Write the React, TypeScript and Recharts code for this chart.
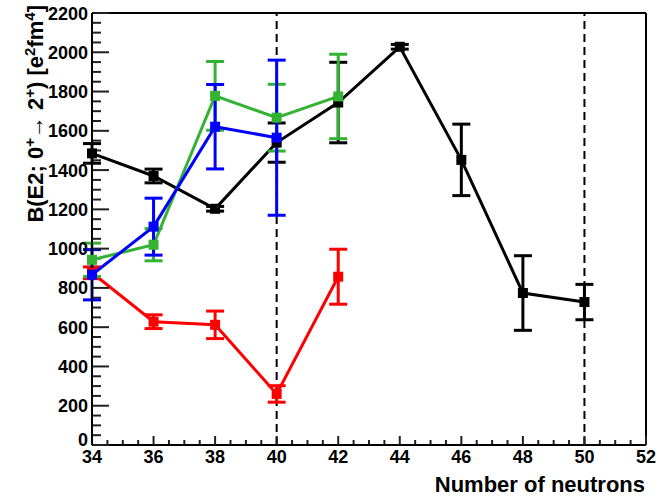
import React from 'react';
import { LineChart, Line, XAxis, YAxis, ErrorBar, ReferenceLine, Label } from 'recharts';

// Neutron number (x), B(E2) value (y), error (err)
const blackN = [34, 36, 38, 40, 42, 44, 46, 48, 50];
const blackB = [1485, 1370, 1203, 1540, 1744, 2028, 1452, 774, 728];
const blackE = [50, 35, 12, 100, 205, 12, 182, 190, 90];

const redN = [34, 36, 38, 40, 42];
const redB = [877, 628, 612, 260, 857];
const redE = [30, 35, 70, 42, 140];

const greenN = [34, 36, 38, 40, 42];
const greenB = [943, 1020, 1778, 1667, 1775];
const greenE = [85, 82, 175, 170, 215];

const blueN = [34, 36, 38, 40];
const blueB = [867, 1112, 1621, 1565];
const blueE = [128, 145, 215, 395];

const xMajorTicks = [34, 36, 38, 40, 42, 44, 46, 48, 50, 52];
const yMajorTicks = [0, 200, 400, 600, 800, 1000, 1200, 1400, 1600, 1800, 2000, 2200];
const dashedN = [40, 50];

const X_MIN = 34;
const X_MAX = 52;
const Y_MIN = 0;
const Y_MAX = 2200;
const PLOT_W = 554;
const PLOT_H = 432;

const TICK = '#202020';

const build = (xs: number[], ys: number[], es: number[]) =>
  xs.map((x, i) => ({ x, y: ys[i], err: es[i] }));

const blackData = build(blackN, blackB, blackE);
const redData = build(redN, redB, redE);
const greenData = build(greenN, greenB, greenE);
const blueData = build(blueN, blueB, blueE);

// minor tick positions (between the labelled ticks)
const xMinorTicks: number[] = [];
for (let i = 0; i < xMajorTicks.length - 1; i++) {
  for (let k = 1; k < 4; k++) xMinorTicks.push(xMajorTicks[i] + k * 0.5);
}
const yMinorTicks: number[] = [];
for (let i = 0; i < yMajorTicks.length - 1; i++) {
  for (let k = 1; k < 4; k++) yMinorTicks.push(yMajorTicks[i] + k * 50);
}

// tick lengths in pixels converted to data units
const pxToX = (px: number) => (px * (X_MAX - X_MIN)) / PLOT_W;
const pxToY = (px: number) => (px * (Y_MAX - Y_MIN)) / PLOT_H;

const FONT = '"Liberation Sans", Arial, sans-serif';

const YTick = (props: any) => {
  const x = Number(props.x);
  const y = Number(props.y);
  const v = Number(props.payload.value);
  return (
    <g>
      <line x1={x + 1} x2={x + 17} y1={y} y2={y} stroke={TICK} strokeWidth={2} />
      <text x={x - 4} y={v === 0 ? y + 1 : y + 6.5} textAnchor="end" fontFamily={FONT} fontWeight="bold" fontSize={18} fill="#000">
        {v}
      </text>
    </g>
  );
};

const XTick = (props: any) => {
  const x = Number(props.x);
  const y = Number(props.y);
  const v = Number(props.payload.value);
  return (
    <text x={x} y={y + 27} textAnchor="middle" fontFamily={FONT} fontWeight="bold" fontSize={18} fill="#000">
      {v}
    </text>
  );
};

const makeDot = (color: string) => (props: any) => {
  const { cx, cy, index } = props;
  if (cx == null || cy == null) return <g key={index} />;
  return <rect key={index} x={cx - 5} y={cy - 5} width={10} height={10} fill={color} />;
};

const series = [
  { data: blackData, color: '#000000' },
  { data: redData, color: '#ff0000' },
  { data: greenData, color: '#33b233' },
  { data: blueData, color: '#0000ff' },
];

export default function App() {
  return (
    <div style={{ position: 'absolute', left: 0, top: 0, background: '#fff' }}>
      <LineChart width={669} height={498} margin={{ top: 13, right: 23, bottom: 0, left: 0 }}>
        <XAxis
          type="number"
          dataKey="x"
          domain={[X_MIN, X_MAX]}
          ticks={xMajorTicks}
          interval={0}
          height={53}
          tickSize={-9}
          tickMargin={0}
          tickLine={{ stroke: TICK, strokeWidth: 2 }}
          tick={<XTick />}
          axisLine={{ stroke: '#000', strokeWidth: 2 }}
          allowDuplicatedCategory={false}
        >
          <Label
            content={() => (
              <text x={645} y={492} textAnchor="end" fontFamily={FONT} fontWeight="bold" fontSize={22} fill="#000">
                Number of neutrons
              </text>
            )}
          />
        </XAxis>
        <YAxis
          type="number"
          domain={[Y_MIN, Y_MAX]}
          ticks={yMajorTicks}
          interval={0}
          width={92}
          tickSize={0}
          tickMargin={0}
          tickLine={false}
          tick={<YTick />}
          axisLine={{ stroke: '#000', strokeWidth: 2 }}
        >
          <Label
            content={() => (
              <text
                x={43}
                y={5}
                transform="rotate(-90, 43, 5)"
                textAnchor="end"
                fontFamily={FONT}
                fontWeight="bold"
                fontSize={22}
                fill="#000"
              >
                B(E2; 0<tspan dy={-8} fontSize={15}>+</tspan>
                <tspan dy={8}>{'\u2192'} 2</tspan>
                <tspan dy={-8} fontSize={15}>+</tspan>
                <tspan dy={8}>) [e</tspan>
                <tspan dy={-8} fontSize={15}>2</tspan>
                <tspan dy={8}>fm</tspan>
                <tspan dy={-8} fontSize={15}>4</tspan>
                <tspan dy={8}>]</tspan>
              </text>
            )}
          />
        </YAxis>
        {yMinorTicks.map((v) => (
          <ReferenceLine
            key={'ym' + v}
            segment={[
              { x: X_MIN + pxToX(1), y: v },
              { x: X_MIN + pxToX(9), y: v },
            ]}
            stroke={TICK}
            strokeWidth={2}
          />
        ))}
        {xMinorTicks.map((v) => (
          <ReferenceLine
            key={'xm' + v}
            segment={[
              { x: v, y: Y_MIN + pxToY(1) },
              { x: v, y: Y_MIN + pxToY(5) },
            ]}
            stroke={TICK}
            strokeWidth={2}
          />
        ))}
        <ReferenceLine y={Y_MAX} stroke="#000" strokeWidth={2} />
        <ReferenceLine x={X_MAX} stroke="#000" strokeWidth={2} />
        {dashedN.map((n) => (
          <ReferenceLine key={n} x={n} stroke="#000" strokeWidth={2} strokeDasharray="8 5" />
        ))}
        {series.map((s, i) => (
          <Line
            key={i}
            data={s.data}
            dataKey="y"
            type="linear"
            stroke={s.color}
            strokeWidth={3}
            dot={makeDot(s.color)}
            activeDot={false}
            isAnimationActive={false}
          >
            <ErrorBar dataKey="err" direction="y" width={9} strokeWidth={3} stroke={s.color} isAnimationActive={false} />
          </Line>
        ))}
      </LineChart>
    </div>
  );
}
